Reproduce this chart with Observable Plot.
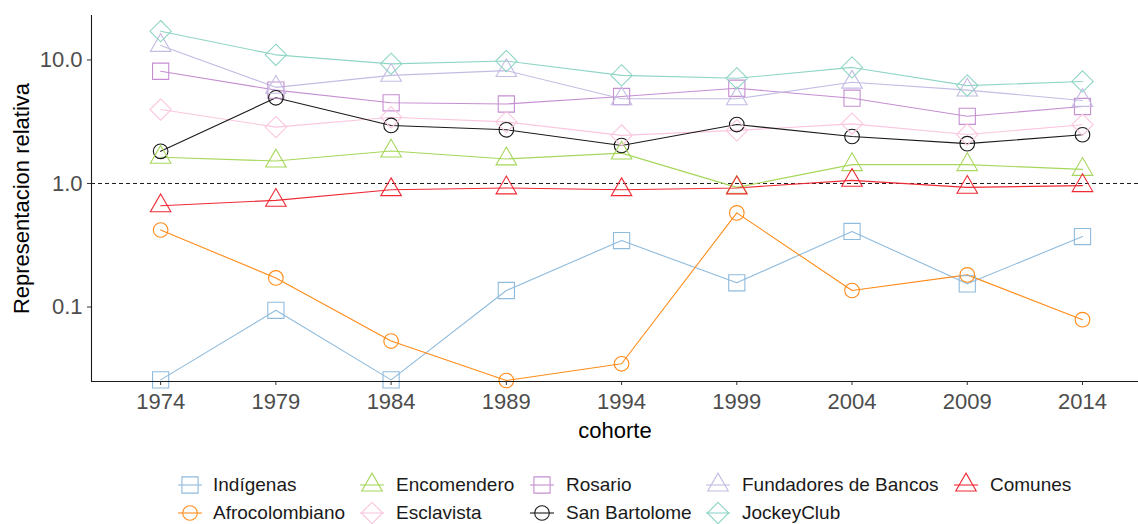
<!DOCTYPE html>
<html>
<head>
<meta charset="utf-8">
<script src="https://cdn.jsdelivr.net/npm/d3@7"></script>
<script src="https://cdn.jsdelivr.net/npm/@observablehq/plot@0.6"></script>
<style>
  body { margin: 0; background: #fff; font-family: "Liberation Sans", Arial, sans-serif; }
  #wrap { position: relative; width: 1138px; height: 524px; overflow: hidden; }
  .key { position: absolute; display: flex; align-items: center; font-size: 19px; color: #1a1a1a; white-space: nowrap; }
  .key svg { display: block; }
</style>
</head>
<body>
<div id="wrap"><div id="chart"></div><div id="legend"></div></div>
<script>
const years = [1974, 1979, 1984, 1989, 1994, 1999, 2004, 2009, 2014];
const seriesNames = ["Indígenas", "Afrocolombiano", "Encomendero", "Esclavista", "Rosario", "San Bartolome", "Fundadores de Bancos", "Comunes", "JockeyClub"];
const seriesColors = ["#8fbbdd", "#ff8c1a", "#a6d75b", "#fbc6df", "#c68fd2", "#1a1a1a", "#c4bce3", "#ee2a35", "#8fd5c6"];
const seriesShapes = ["square", "circle", "triangle", "diamond", "square", "circle", "triangle", "triangle", "diamond"];

const indigenas      = [0.0257, 0.094, 0.0257, 0.136, 0.345, 0.157, 0.409, 0.154, 0.372];
const afrocolombiano = [0.42, 0.172, 0.053, 0.0254, 0.0347, 0.578, 0.136, 0.182, 0.079];
const encomendero    = [1.63, 1.52, 1.83, 1.58, 1.76, 0.93, 1.42, 1.42, 1.30];
const esclavista     = [3.97, 2.86, 3.44, 3.15, 2.45, 2.69, 3.04, 2.49, 2.99];
const rosario        = [8.1, 5.7, 4.5, 4.4, 5.06, 5.9, 4.9, 3.5, 4.2];
const sanBartolome   = [1.82, 4.94, 2.95, 2.72, 2.03, 3.0, 2.40, 2.10, 2.48];
const fundadores     = [13.1, 6.0, 7.5, 8.2, 4.85, 4.85, 6.6, 5.7, 4.7];
const comunes        = [0.66, 0.73, 0.89, 0.92, 0.89, 0.92, 1.06, 0.93, 0.96];
const jockeyClub     = [17.1, 11.0, 9.3, 9.8, 7.5, 7.1, 8.7, 6.2, 6.7];

const yTicks = [0.1, 1, 10];
const allValues = [indigenas, afrocolombiano, encomendero, esclavista, rosario, sanBartolome, fundadores, comunes, jockeyClub];

const data = [];
seriesNames.forEach((name, i) => {
  years.forEach((yr, j) => {
    data.push({serie: name, cohorte: yr, valor: allValues[i][j], shape: seriesShapes[i]});
  });
});

const yMin = 0.02494, yMax = 22.9;
const xMin = 1971, xMax = 2016.43;

const symbolMap = {square: "square2", circle: "circle", triangle: "triangle2", diamond: "diamond2"};
const rMap = {square: 10.3, circle: 7.3, triangle: 9.8, diamond: 9.6};

const dotMarks = Object.keys(symbolMap).map(sh =>
  Plot.dot(data.filter(d => d.shape === sh), {
    x: "cohorte", y: "valor", stroke: "serie", fill: "none",
    symbol: () => symbolMap[sh], r: rMap[sh], strokeWidth: 1.1
  })
);

const chart = Plot.plot({
  width: 1138,
  height: 460,
  marginLeft: 91,
  marginRight: 0,
  marginTop: 15,
  marginBottom: 79,
  style: {fontFamily: "Liberation Sans, Arial, sans-serif", background: "#fff"},
  x: {domain: [xMin, xMax], label: null},
  y: {type: "log", domain: [yMin, yMax], label: null},
  color: {domain: seriesNames, range: seriesColors},
  symbol: {type: "identity"},
  marks: [
    Plot.ruleY([1], {stroke: "#1a1a1a", strokeDasharray: "4,3", strokeWidth: 1}),
    Plot.line(data, {x: "cohorte", y: "valor", z: "serie", stroke: "serie", strokeWidth: 1.1}),
    ...dotMarks,
    Plot.ruleX([xMin], {stroke: "#1a1a1a", strokeWidth: 1.1}),
    Plot.ruleY([yMin], {stroke: "#1a1a1a", strokeWidth: 1.1}),
    Plot.axisX({ticks: years, tickFormat: d => String(d), tickSize: 4, tickPadding: 8, fontSize: 22, fill: "#4d4d4d", stroke: "#333", label: null}),
    Plot.axisY({ticks: yTicks, tickFormat: d3.format(".1f"), tickSize: 4, tickPadding: 5, fontSize: 22, fill: "#4d4d4d", stroke: "#333", label: null}),
    Plot.text(["cohorte"], {frameAnchor: "bottom", lineAnchor: "middle", textAnchor: "middle", dy: 49, fontSize: 22, fill: "#000"}),
    Plot.text(["Representacion relativa"], {frameAnchor: "left", textAnchor: "middle", lineAnchor: "middle", dx: -70, rotate: -90, fontSize: 22, fill: "#000"})
  ]
});
document.getElementById("chart").appendChild(chart);

// Legend (below the SVG)
const legendPos = [
  [190, 485], [190, 513],
  [372, 485], [372, 513],
  [542, 485], [542, 513],
  [718, 485], [718, 513],
  [966, 485]
];
const legendOrder = ["Indígenas", "Afrocolombiano", "Encomendero", "Esclavista", "Rosario", "San Bartolome", "Fundadores de Bancos", "JockeyClub", "Comunes"];
const legend = document.getElementById("legend");
legendOrder.forEach((name, k) => {
  const i = seriesNames.indexOf(name);
  const color = seriesColors[i];
  const sh = seriesShapes[i];
  const [cx, cy] = legendPos[k];
  const div = document.createElement("div");
  div.className = "key";
  div.style.left = (cx - 14) + "px";
  div.style.top = (cy - 12) + "px";
  const sym = d3.symbol(d3[{square: "symbolSquare2", circle: "symbolCircle", triangle: "symbolTriangle2", diamond: "symbolDiamond2"}[sh]], Math.PI * rMap[sh] * rMap[sh])();
  div.innerHTML = `<svg width="28" height="24" viewBox="-14 -12 28 24" style="overflow:visible"><line x1="-12" x2="12" y1="0" y2="0" stroke="${color}" stroke-width="1.1"/><path d="${sym}" fill="none" stroke="${color}" stroke-width="1.1"/></svg><span style="margin-left:${k < 2 ? 9 : 10}px">${name}</span>`;
  legend.appendChild(div);
});
</script>
</body>
</html>
